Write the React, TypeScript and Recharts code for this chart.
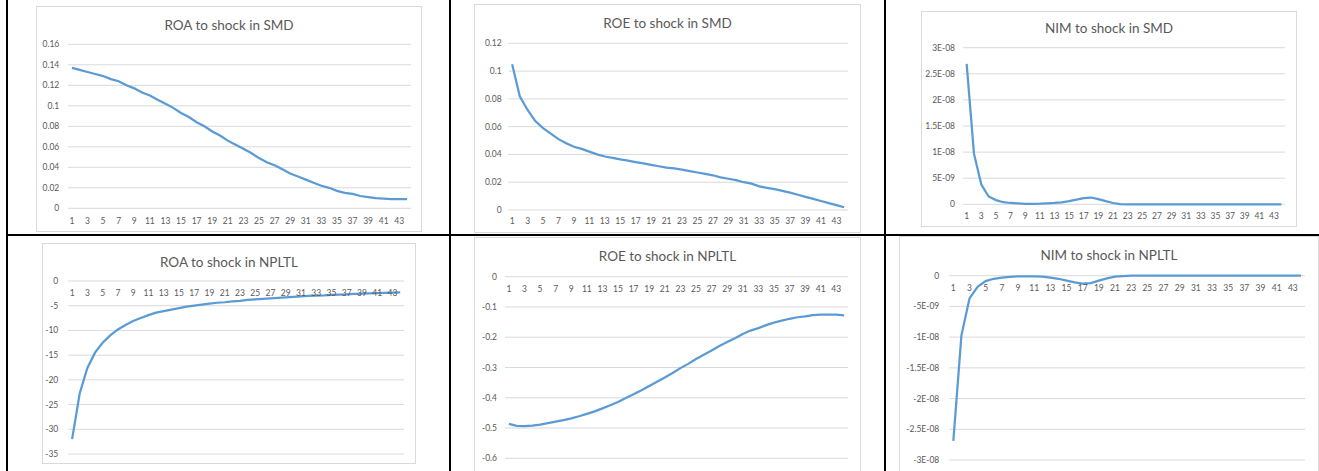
import React from 'react';
import { LineChart, Line, XAxis, YAxis, CartesianGrid } from 'recharts';

// periods after the shock
const periods = [
  1, 2, 3, 4, 5, 6, 7, 8, 9, 10, 11, 12, 13, 14, 15, 16, 17, 18, 19, 20, 21, 22,
  23, 24, 25, 26, 27, 28, 29, 30, 31, 32, 33, 34, 35, 36, 37, 38, 39, 40, 41, 42, 43, 44,
];

const roaSmd = [
  0.137, 0.135, 0.133, 0.131, 0.129, 0.126, 0.124, 0.12, 0.117, 0.113, 0.11, 0.106,
  0.102, 0.098, 0.093, 0.089, 0.084, 0.08, 0.075, 0.071, 0.066, 0.062, 0.058, 0.054,
  0.049, 0.045, 0.042, 0.038, 0.034, 0.031, 0.028, 0.025, 0.022, 0.02, 0.017, 0.015,
  0.014, 0.012, 0.011, 0.01, 0.0095, 0.009, 0.009, 0.009,
];

const roeSmd = [
  0.105, 0.0816, 0.072, 0.064, 0.059, 0.055, 0.051, 0.048, 0.0455, 0.044, 0.042, 0.04,
  0.0385, 0.0375, 0.0365, 0.0355, 0.0345, 0.0335, 0.0325, 0.0315, 0.0305, 0.03, 0.029,
  0.028, 0.027, 0.026, 0.025, 0.0235, 0.0225, 0.0215, 0.02, 0.019, 0.017, 0.016, 0.015,
  0.0138, 0.0125, 0.011, 0.0095, 0.008, 0.0065, 0.005, 0.0035, 0.002,
];

const nimSmd = [
  2.69e-8, 0.97e-8, 0.38e-8, 0.15e-8, 0.08e-8, 0.04e-8, 0.025e-8, 0.02e-8, 0.01e-8,
  0.01e-8, 0.012e-8, 0.02e-8, 0.025e-8, 0.035e-8, 0.06e-8, 0.09e-8, 0.12e-8, 0.13e-8,
  0.1e-8, 0.06e-8, 0.025e-8, 0.005e-8, 0, 0, 0, 0, 0, 0, 0, 0, 0, 0, 0, 0, 0, 0, 0, 0,
  0, 0, 0, 0, 0, 0,
];

const roaNpltl = [
  -32.0, -22.7, -17.6, -14.5, -12.5, -11.0, -9.8, -8.9, -8.1, -7.5, -6.9, -6.4, -6.1,
  -5.8, -5.5, -5.2, -5.0, -4.8, -4.6, -4.4, -4.3, -4.1, -4.0, -3.8, -3.7, -3.6, -3.5,
  -3.4, -3.3, -3.2, -3.1, -3.0, -2.95, -2.9, -2.8, -2.75, -2.7, -2.6, -2.55, -2.5,
  -2.45, -2.4, -2.35, -2.3,
];

const roeNpltl = [
  -0.486, -0.493, -0.494, -0.492, -0.489, -0.484, -0.479, -0.474, -0.468, -0.461,
  -0.453, -0.445, -0.435, -0.425, -0.414, -0.401, -0.388, -0.375, -0.361, -0.347,
  -0.333, -0.318, -0.302, -0.288, -0.272, -0.258, -0.244, -0.229, -0.216, -0.203,
  -0.189, -0.178, -0.17, -0.16, -0.152, -0.145, -0.139, -0.134, -0.131, -0.127,
  -0.125, -0.125, -0.125, -0.128,
];

const nimNpltl = [
  -2.69e-8, -0.97e-8, -0.37e-8, -0.18e-8, -0.087e-8, -0.05e-8, -0.03e-8, -0.02e-8,
  -0.01e-8, -0.01e-8, -0.01e-8, -0.015e-8, -0.03e-8, -0.05e-8, -0.08e-8, -0.11e-8,
  -0.13e-8, -0.12e-8, -0.08e-8, -0.045e-8, -0.015e-8, -0.005e-8, 0, 0, 0, 0, 0, 0, 0,
  0, 0, 0, 0, 0, 0, 0, 0, 0, 0, 0, 0, 0, 0, 0,
];

const roaSmdTicks = [0, 0.02, 0.04, 0.06, 0.08, 0.1, 0.12, 0.14, 0.16];
const roeSmdTicks = [0, 0.02, 0.04, 0.06, 0.08, 0.1, 0.12];
const nimSmdTicks = [0, 5e-9, 1e-8, 1.5e-8, 2e-8, 2.5e-8, 3e-8];
const roaNpltlTicks = [-35, -30, -25, -20, -15, -10, -5, 0];
const roeNpltlTicks = [-0.6, -0.5, -0.4, -0.3, -0.2, -0.1, 0];
const nimNpltlTicks = [-3e-8, -2.5e-8, -2e-8, -1.5e-8, -1e-8, -5e-9, 0];

const FONT = 'Lato, "Open Sans", sans-serif';
const LINE = '#5b9bd5';
const GRID = '#d9d9d9';
const TEXT = '#595959';

// Excel style scientific labels: 5E-09, 2.5E-08
const sci = (v: number) => {
  if (v === 0) return '0';
  const [m, e] = v.toExponential().split('e');
  const n = parseInt(e, 10);
  return `${m}E${n < 0 ? '-' : '+'}${String(Math.abs(n)).padStart(2, '0')}`;
};

interface Box { left: number; top: number; width: number; height: number }
interface Margin { top: number; right: number; bottom: number; left: number }

interface PanelProps {
  title: string;
  values: number[];
  ticks: number[];
  box: Box;
  titleY: number;
  margin: Margin;
  yWidth: number;
  yGap: number;
  xGap: number;
  xOnTop?: boolean;
  fmt?: (v: number) => string;
}

const Panel: React.FC<PanelProps> = ({
  title, values, ticks, box, titleY, margin, yWidth, yGap, xGap, xOnTop, fmt,
}) => {
  const data = periods.map((p, i) => ({ t: p, v: values[i] }));
  const tickStyle = { fontSize: 8.5, fill: TEXT, fontFamily: FONT };

  return (
    <div
      style={{
        position: 'absolute',
        left: box.left,
        top: box.top,
        width: box.width,
        height: box.height,
        border: `1px solid ${GRID}`,
        boxSizing: 'border-box',
        background: '#fff',
      }}
    >
      <div style={{ position: 'absolute', left: -1, top: -1 }}>
        <LineChart width={box.width} height={box.height} data={data} margin={margin}>
          <CartesianGrid vertical={false} stroke={GRID} strokeWidth={1} />
          {/* bottom row: labels sit just under the zero line, like Excel */}
          <XAxis
            dataKey="t"
            scale="band"
            interval={1}
            orientation={xOnTop ? 'top' : 'bottom'}
            mirror={!!xOnTop}
            height={xOnTop ? 1 : 20}
            axisLine={false}
            tickLine={false}
            tickMargin={xGap}
            tick={tickStyle}
          />
          <YAxis
            type="number"
            domain={[ticks[0], ticks[ticks.length - 1]]}
            ticks={ticks}
            interval={0}
            width={yWidth}
            axisLine={false}
            tickLine={false}
            tickMargin={yGap}
            tick={tickStyle}
            tickFormatter={fmt}
          />
          <Line
            type="linear"
            dataKey="v"
            stroke={LINE}
            strokeWidth={2.25}
            dot={false}
            isAnimationActive={false}
          />
        </LineChart>
      </div>
      <div
        style={{
          position: 'absolute',
          left: 0,
          right: 0,
          top: titleY - 10,
          lineHeight: '20px',
          textAlign: 'center',
          fontFamily: FONT,
          fontSize: 13.5,
          color: TEXT,
          whiteSpace: 'nowrap',
        }}
      >
        {title}
      </div>
    </div>
  );
};

const rule = (style: React.CSSProperties) => (
  <div style={{ position: 'absolute', background: '#000', zIndex: 5, ...style }} />
);

export default function App() {
  return (
    <div
      style={{
        position: 'absolute',
        left: 0,
        top: 0,
        width: 1319,
        height: 471,
        overflow: 'hidden',
        background: '#fff',
      }}
    >
      <Panel
        title="ROA to shock in SMD"
        values={roaSmd}
        ticks={roaSmdTicks}
        box={{ left: 36, top: 6, width: 386, height: 226 }}
        titleY={18}
        margin={{ top: 38.3, right: 11, bottom: 3.7, left: 0 }}
        yWidth={32}
        yGap={2.7}
        xGap={3.7}
      />
      <Panel
        title="ROE to shock in SMD"
        values={roeSmd}
        ticks={roeSmdTicks}
        box={{ left: 474, top: 4, width: 387, height: 229 }}
        titleY={18}
        margin={{ top: 39.3, right: 13, bottom: 3, left: 0 }}
        yWidth={34.3}
        yGap={0.6}
        xGap={2}
      />
      <Panel
        title="NIM to shock in SMD"
        values={nimSmd}
        ticks={nimSmdTicks}
        box={{ left: 921, top: 11, width: 376, height: 216 }}
        titleY={16}
        margin={{ top: 36.7, right: 12, bottom: 2.7, left: 0 }}
        yWidth={42}
        yGap={2}
        xGap={2.7}
        fmt={sci}
      />
      <Panel
        title="ROA to shock in NPLTL"
        values={roaNpltl}
        ticks={roaNpltlTicks}
        box={{ left: 42, top: 243, width: 374, height: 221 }}
        titleY={17.7}
        margin={{ top: 38, right: 12, bottom: 10, left: 0 }}
        yWidth={26.3}
        yGap={4}
        xGap={2.7}
        xOnTop
      />
      <Panel
        title="ROE to shock in NPLTL"
        values={roeNpltl}
        ticks={roeNpltlTicks}
        box={{ left: 474, top: 237, width: 387, height: 240 }}
        titleY={18}
        margin={{ top: 39.7, right: 13, bottom: 18.7, left: 0 }}
        yWidth={31}
        yGap={2}
        xGap={3.3}
        xOnTop
      />
      <Panel
        title="NIM to shock in NPLTL"
        values={nimNpltl}
        ticks={nimNpltlTicks}
        box={{ left: 899, top: 236, width: 420, height: 240 }}
        titleY={18}
        margin={{ top: 39.7, right: 14, bottom: 16, left: 0 }}
        yWidth={50.3}
        yGap={4}
        xGap={3}
        xOnTop
        fmt={sci}
      />
      {rule({ left: 6, top: 0, width: 2, height: 471 })}
      {rule({ left: 448.5, top: 0, width: 2, height: 471 })}
      {rule({ left: 883.5, top: 0, width: 2, height: 471 })}
      {rule({ left: 6, top: 233.5, width: 1313, height: 2 })}
    </div>
  );
}
